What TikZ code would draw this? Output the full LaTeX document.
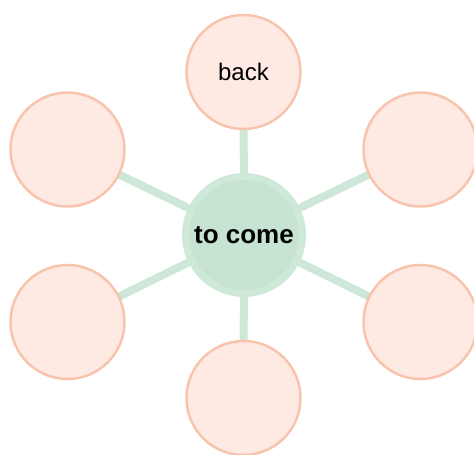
\documentclass[tikz,border=0pt]{standalone}
\usepackage{fontspec}
\setmainfont{Liberation Sans}
\usetikzlibrary{backgrounds}
\definecolor{leaffill}{HTML}{FEEAE3}
\definecolor{leafline}{HTML}{F9C4AE}
\definecolor{hubfill}{HTML}{C6E4D1}
\definecolor{hubring}{HTML}{CFE9D9}
\definecolor{spoke}{HTML}{CDE8D6}
\tikzset{
  leaf/.style={circle, fill=leaffill, draw=leafline, line width=2.5pt, minimum size=114pt, inner sep=0pt, font=\fontsize{24}{28}\selectfont},
  hub/.style={circle, fill=hubfill, draw=hubring, line width=7pt, minimum size=117pt, inner sep=0pt, font=\bfseries\fontsize{26}{30}\selectfont},
  link/.style={draw=spoke, line width=8pt}
}
\begin{document}
\begin{tikzpicture}[x=1pt,y=-1pt]
\useasboundingbox (0,0) rectangle (474,455);
\node[hub] (c) at (244,235) {to come};
\node[leaf] (t) at (243.5,72) {back};
\node[leaf] (tl) at (67.5,149.5) {};
\node[leaf] (tr) at (420.5,149.5) {};
\node[leaf] (bl) at (67.5,322) {};
\node[leaf] (br) at (420.5,322) {};
\node[leaf] (b) at (243.5,398) {};
\begin{scope}[on background layer]
\foreach \n in {t,tl,tr,bl,br,b} \draw[link] (c.center) -- (\n.center);
\end{scope}
\end{tikzpicture}
\end{document}
